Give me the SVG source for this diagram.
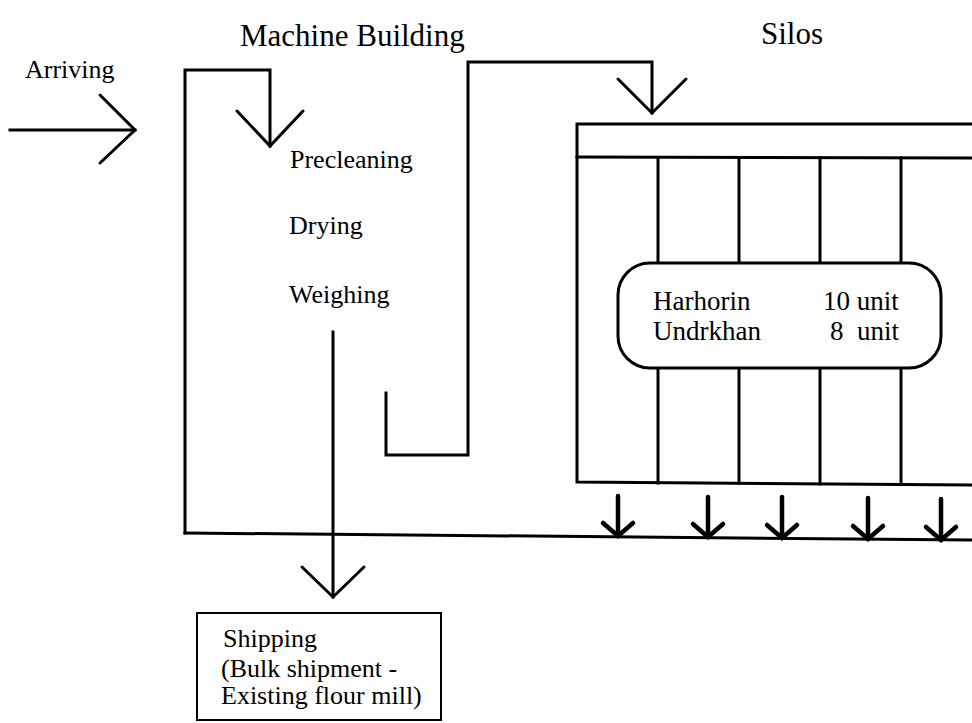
<svg xmlns="http://www.w3.org/2000/svg" width="972" height="723" viewBox="0 0 972 723">
<style>
text{font-family:"Liberation Serif","Times New Roman",serif;fill:#000}
.t{font-size:31px}
.b{font-size:26px}
.bx{font-size:27px}
.ln{fill:none;stroke:#000;stroke-width:3;stroke-linecap:square;stroke-linejoin:miter}
.ah{fill:none;stroke:#000;stroke-width:3;stroke-linecap:round;stroke-linejoin:miter}
.ah2{fill:none;stroke:#000;stroke-width:4.5;stroke-linecap:round;stroke-linejoin:miter}
</style>
<rect width="972" height="723" fill="#fff"/>
<g id="title-machine-building"><text class="t" x="240" y="46">Machine Building</text></g>
<g id="title-silos"><text class="t" x="761" y="44">Silos</text></g>
<g id="arriving"><text class="b" x="25" y="78">Arriving</text></g>
<g id="machine-steps">
<text class="b" x="290" y="168">Precleaning</text>
<text class="b" x="289" y="234">Drying</text>
<text class="b" x="289" y="303">Weighing</text>
</g>
<g id="silos">
<path class="ln" d="M972,124 H577 V482 L972,485"/>
<line class="ln" x1="577" y1="157" x2="972" y2="158"/>
<line class="ln" x1="658" y1="158" x2="658" y2="264"/>
<line class="ln" x1="739" y1="158" x2="739" y2="264"/>
<line class="ln" x1="820" y1="158" x2="820" y2="264"/>
<line class="ln" x1="901" y1="158" x2="901" y2="264"/>
<line class="ln" x1="658" y1="368" x2="658" y2="483"/>
<line class="ln" x1="739" y1="368" x2="739" y2="483"/>
<line class="ln" x1="820" y1="368" x2="820" y2="484"/>
<line class="ln" x1="901" y1="368" x2="901" y2="484"/>
</g>
<g id="silo-capacity">
<rect x="618" y="263" width="323" height="105" rx="32" ry="32" fill="#fff" stroke="#000" stroke-width="3"/>
<text class="bx" x="653" y="310">Harhorin</text>
<text class="bx" x="653" y="340">Undrkhan</text>
<text class="bx" x="823" y="310">10 unit</text>
<text class="bx" x="830" y="340" xml:space="preserve">8  unit</text>
</g>
<g id="shipping">
<rect x="197" y="613" width="244" height="107" fill="none" stroke="#000" stroke-width="2"/>
<text class="b" x="223" y="647">Shipping</text>
<text class="b" x="221" y="677">(Bulk shipment -</text>
<text class="b" x="221" y="704">Existing flour mill)</text>
</g>
<g id="connectors">
<line class="ln" x1="10" y1="130" x2="135" y2="130"/>
<polyline class="ah" points="100,95 135,130 100,163"/>
<path class="ln" d="M185,533 V70 H270 V146"/>
<polyline class="ah" points="237,111 270,146 303,111"/>
<path class="ln" d="M386,393 V455 H468 V62 H652 V113"/>
<polyline class="ah" points="618,79 652,113 686,79"/>
<line class="ln" x1="333" y1="332" x2="333" y2="597"/>
<polyline class="ah" points="302,567 333,597 364,567"/>
<line class="ln" x1="185" y1="533" x2="972" y2="540"/>
<line class="ah2" x1="618" y1="496" x2="618" y2="536"/>
<polyline class="ah2" points="603,523 618,536 633,523"/>
<line class="ah2" x1="708" y1="497" x2="708" y2="537"/>
<polyline class="ah2" points="693,524 708,537 723,524"/>
<line class="ah2" x1="782" y1="497" x2="782" y2="538"/>
<polyline class="ah2" points="767,525 782,538 797,525"/>
<line class="ah2" x1="868" y1="498" x2="868" y2="539"/>
<polyline class="ah2" points="853,526 868,539 883,526"/>
<line class="ah2" x1="941" y1="499" x2="941" y2="540"/>
<polyline class="ah2" points="926,527 941,540 956,527"/>
</g>
</svg>
